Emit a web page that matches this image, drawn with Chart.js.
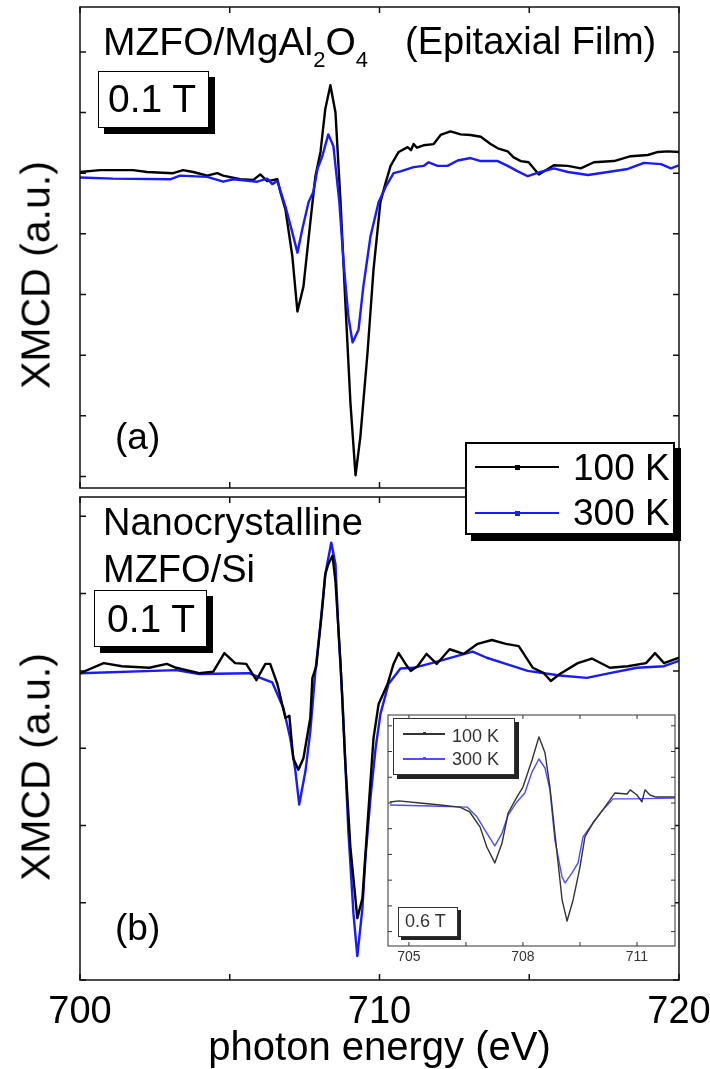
<!DOCTYPE html>
<html>
<head>
<meta charset="utf-8">
<script src="https://cdn.jsdelivr.net/npm/chart.js@4"></script>
<style>
  html, body { margin: 0; padding: 0; background: #fff; }
  #page { position: relative; width: 710px; height: 1069px; overflow: hidden;
          font-family: 'Liberation Sans', Arial, sans-serif; color: #000; }
  canvas { position: absolute; }
  .t { position: absolute; line-height: 1; white-space: nowrap; }
  .box { position: absolute; background: #fff; box-sizing: border-box; }
  .ln { position: absolute; }
</style>
</head>
<body>
<div id="page">
  <canvas id="top" width="710" height="492" style="left:0;top:0;width:710px;height:492px"></canvas>
  <canvas id="bot" width="710" height="577" style="left:0;top:492px;width:710px;height:577px"></canvas>
  <canvas id="ins" width="310" height="270" style="left:380px;top:705px;width:310px;height:270px"></canvas>

  <!-- panel (a) -->
  <div class="t" style="left:103px;top:22px;font-size:39px">MZFO/MgAl<span style="font-size:22px;position:relative;top:12px">2</span>O<span style="font-size:22px;position:relative;top:12px">4</span></div>
  <div class="t" style="left:405px;top:22px;font-size:38px">(Epitaxial Film)</div>
  <div class="box" style="left:98px;top:71px;width:111px;height:57px;border:1.5px solid #000;box-shadow:6px 6px 0 #000"></div>
  <div class="t" style="left:108px;top:79px;font-size:39px">0.1 T</div>
  <div class="t" style="left:115px;top:418px;font-size:37px">(a)</div>
  <div class="t" style="left:36px;top:275px;font-size:41px;transform:translate(-50%,-50%) rotate(-90deg)">XMCD (a.u.)</div>

  <!-- panel (b) -->
  <div class="t" style="left:103px;top:503px;font-size:38px">Nanocrystalline</div>
  <div class="t" style="left:103px;top:550px;font-size:38px">MZFO/Si</div>
  <div class="box" style="left:94px;top:590px;width:113px;height:57px;border:1.5px solid #000;box-shadow:6px 6px 0 #000"></div>
  <div class="t" style="left:107px;top:599px;font-size:39px">0.1 T</div>
  <div class="t" style="left:115px;top:909px;font-size:37px">(b)</div>
  <div class="t" style="left:36px;top:767px;font-size:41px;transform:translate(-50%,-50%) rotate(-90deg)">XMCD (a.u.)</div>

  <!-- main legend -->
  <div class="box" style="left:465px;top:442px;width:210px;height:93px;border:2px solid #000;box-shadow:6px 6px 0 #000"></div>
  <div class="ln" style="left:475px;top:466px;width:84px;height:2px;background:#000"></div>
  <div class="ln" style="left:515px;top:465px;width:5px;height:5px;background:#000"></div>
  <div class="t" style="left:573px;top:449px;font-size:37px">100 K</div>
  <div class="ln" style="left:475px;top:512px;width:84px;height:2px;background:#1a1aff"></div>
  <div class="ln" style="left:515px;top:511px;width:5px;height:5px;background:#1a1aff"></div>
  <div class="t" style="left:573px;top:494px;font-size:37px">300 K</div>

  <!-- inset legend and label -->
  <div class="box" style="left:393px;top:718px;width:122px;height:57px;border:1px solid #333;box-shadow:4px 4px 0 #222"></div>
  <div class="ln" style="left:403px;top:733px;width:42px;height:1.5px;background:#333"></div>
  <div class="ln" style="left:423px;top:732px;width:3px;height:3px;background:#333"></div>
  <div class="t" style="left:452px;top:727px;font-size:18px;color:#333">100 K</div>
  <div class="ln" style="left:403px;top:758px;width:42px;height:1.5px;background:#4d4dff"></div>
  <div class="ln" style="left:423px;top:757px;width:3px;height:3px;background:#4d4dff"></div>
  <div class="t" style="left:452px;top:750px;font-size:18px;color:#333">300 K</div>
  <div class="box" style="left:398px;top:907px;width:60px;height:30px;border:1px solid #333;box-shadow:3px 3px 0 #222"></div>
  <div class="t" style="left:405px;top:912px;font-size:18px;color:#333">0.6 T</div>
</div>

<script>
// photon energy (eV) and XMCD (a.u.)

// (a) epitaxial film, 0.1 T
const topE_100 = [700.0,700.67,701.77,702.24,703.11,703.44,703.78,704.25,704.58,704.78,705.35,705.79,706.02,706.25,706.59,706.69,706.86,707.09,707.26,707.46,707.69,707.86,708.03,708.19,708.36,708.53,708.7,708.86,709.03,709.2,709.36,709.6,709.8,710.03,710.18,710.37,710.64,710.94,711.05,711.14,711.25,711.47,711.81,712.04,712.37,712.71,713.04,713.38,713.71,713.95,714.28,714.48,714.72,714.98,715.32,715.82,716.29,716.72,717.16,717.83,718.39,718.96,719.3,719.63,720.0];
const topV_100 = [0.02,0.05,0.05,0.02,0.0,0.05,0.02,-0.04,0.0,-0.04,-0.10,-0.11,-0.02,-0.13,-0.10,-0.31,-0.60,-1.37,-2.28,-1.87,-0.81,-0.05,0.35,1.06,1.45,1.00,-0.48,-2.13,-3.79,-4.98,-4.35,-2.96,-1.59,-0.48,-0.20,0.12,0.35,0.43,0.38,0.48,0.42,0.46,0.48,0.63,0.69,0.64,0.63,0.60,0.48,0.41,0.36,0.26,0.20,0.18,-0.02,0.13,0.12,0.08,0.18,0.20,0.28,0.30,0.35,0.36,0.35];
const topE_300 = [700.0,701.1,703.01,703.34,704.25,704.78,705.12,705.92,706.25,706.42,706.59,706.86,707.09,707.26,707.42,707.63,707.79,707.93,708.09,708.29,708.46,708.66,708.8,708.96,709.1,709.3,709.46,709.7,709.97,710.2,710.47,710.7,711.14,711.47,711.64,711.94,712.27,712.61,713.04,713.38,713.95,714.28,714.62,714.95,715.38,715.82,716.29,716.96,717.63,718.29,718.83,719.4,719.73,720.0];
const topV_300 = [-0.07,-0.09,-0.10,-0.04,-0.06,-0.14,-0.10,-0.14,-0.09,-0.18,-0.13,-0.55,-0.98,-1.31,-0.93,-0.48,-0.31,0.07,0.28,0.64,0.45,-0.48,-1.47,-2.36,-2.79,-2.58,-1.87,-1.04,-0.48,-0.23,0.0,0.03,0.10,0.12,0.18,0.12,0.12,0.21,0.25,0.20,0.20,0.12,0.03,-0.05,0.02,0.08,0.02,-0.03,0.02,0.07,0.17,0.15,0.08,0.13];

// (b) nanocrystalline, 0.1 T
const botE_100 = [700.0,700.79,701.4,702.31,702.9,703.21,703.98,704.45,704.82,705.18,705.55,705.89,706.19,706.35,706.59,706.86,706.99,707.12,707.29,707.46,707.69,707.76,707.89,708.09,708.19,708.29,708.43,708.53,708.7,708.86,709.03,709.26,709.43,709.6,709.8,709.97,710.27,710.47,710.64,710.87,711.04,711.27,711.57,711.91,712.34,712.81,713.28,713.75,714.22,714.65,715.12,715.49,715.72,716.02,716.62,717.09,717.69,718.29,718.9,719.2,719.5,720.0];
const botV_100 = [-0.03,0.10,0.06,0.04,0.09,0.04,-0.03,-0.01,0.23,0.10,0.09,-0.12,0.09,0.09,-0.17,-0.61,-0.58,-1.13,-1.28,-1.13,-0.61,-0.09,0.06,0.82,1.25,1.38,1.49,1.16,0.09,-1.20,-2.29,-3.20,-2.94,-1.98,-0.87,-0.43,-0.17,0.09,0.23,0.09,0.0,0.06,0.22,0.09,0.28,0.22,0.35,0.40,0.35,0.32,0.04,-0.03,-0.13,-0.04,0.10,0.16,0.04,0.06,0.10,0.23,0.10,0.17];
const botE_300 = [700.0,703.21,703.98,705.65,706.02,706.42,706.79,707.02,707.19,707.32,707.53,707.69,707.86,708.03,708.19,708.39,708.53,708.63,708.76,708.86,708.96,709.13,709.26,709.43,709.53,709.7,709.87,710.03,710.3,710.7,711.14,711.74,713.11,713.58,714.22,714.95,716.02,716.92,717.69,718.6,719.5,720.0];
const botV_300 = [-0.03,0.01,-0.04,-0.03,-0.09,-0.15,-0.48,-0.87,-1.29,-1.73,-1.29,-0.78,0.0,0.61,1.25,1.66,1.38,0.52,-0.35,-1.20,-2.07,-3.14,-3.69,-3.07,-2.42,-1.64,-1.00,-0.56,-0.17,0.03,0.04,0.10,0.25,0.17,0.09,0.0,-0.06,-0.09,-0.03,0.04,0.06,0.13];

// inset, 0.6 T
const insE_100 = [704.5,704.74,705.29,705.82,706.34,706.6,706.87,707.05,707.26,707.45,707.61,707.84,708.0,708.24,708.42,708.58,708.71,708.84,709.03,709.16,709.32,709.5,709.63,709.84,710.1,710.29,710.42,710.74,710.82,711.0,711.13,711.21,711.34,711.5,712.0];
const insV_100 = [0.04,0.08,0.0,-0.08,-0.16,-0.35,-0.93,-1.71,-2.33,-1.56,-0.39,0.23,0.62,1.67,2.57,1.95,0.62,-1.17,-3.77,-4.59,-3.77,-2.49,-1.32,-0.78,-0.27,0.12,0.39,0.35,0.51,0.31,0.04,0.51,0.31,0.23,0.23];
const insE_300 = [704.5,705.55,706.53,706.79,707.05,707.26,707.45,707.61,707.84,708.05,708.24,708.42,708.58,708.71,708.84,709.03,709.11,709.29,709.45,709.58,709.84,710.1,710.37,710.82,712.0];
const insV_300 = [-0.08,-0.12,-0.16,-0.54,-1.17,-1.67,-1.17,-0.47,0.04,0.39,1.21,1.71,1.36,0.51,-1.44,-2.88,-3.11,-2.72,-2.33,-1.32,-0.78,-0.27,0.16,0.16,0.19];

// ticks
const mainXTicks = [700, 705, 710, 715, 720];
const mainXLabels = [700, 710, 720];
const topYTicks = [-5, -4, -3, -2, -1, 0, 1, 2];
const botYTicks = [-4, -3, -2, -1, 0, 1, 2];
const insXTicks = [705, 706.5, 708, 709.5, 711];
const insXLabels = [705, 708, 711];
const insYTicks = [-5, -4, -3, -2, -1, 0, 1, 2, 3];

const FONT = "'Liberation Sans', Arial, sans-serif";
const BLUE = '#1a1aff';

function pts(E, V) {
  return E.map((e, i) => ({ x: e, y: V[i] }));
}

function lineSet(E, V, color, width) {
  return { data: pts(E, V), borderColor: color, borderWidth: width, pointRadius: 0,
           tension: 0, fill: false, borderJoinStyle: 'round' };
}

// box round the plot with inward tick marks on all four sides
function framePlugin(cfg) {
  return {
    id: 'frame',
    beforeDraw(chart) {
      if (!cfg.fill) return;
      const a = chart.chartArea;
      chart.ctx.save();
      chart.ctx.fillStyle = cfg.fill;
      chart.ctx.fillRect(a.left, a.top, a.right - a.left, a.bottom - a.top);
      chart.ctx.restore();
    },
    afterDraw(chart) {
      const ctx = chart.ctx, a = chart.chartArea, x = chart.scales.x, y = chart.scales.y;
      ctx.save();
      ctx.strokeStyle = cfg.color;
      ctx.lineWidth = cfg.width;
      ctx.beginPath();
      cfg.xTicks.forEach(v => {
        const px = x.getPixelForValue(v);
        ctx.moveTo(px, a.bottom); ctx.lineTo(px, a.bottom - cfg.len);
        ctx.moveTo(px, a.top); ctx.lineTo(px, a.top + cfg.len);
      });
      cfg.yTicks.forEach(v => {
        const py = y.getPixelForValue(v);
        ctx.moveTo(a.left, py); ctx.lineTo(a.left + cfg.len, py);
        ctx.moveTo(a.right, py); ctx.lineTo(a.right - cfg.len, py);
      });
      ctx.stroke();
      ctx.strokeRect(a.left, a.top, a.right - a.left, a.bottom - a.top);
      ctx.restore();
    }
  };
}

const common = {
  responsive: false,
  animation: false,
  devicePixelRatio: 1,
  plugins: { legend: { display: false }, tooltip: { enabled: false } }
};

new Chart(document.getElementById('top'), {
  type: 'line',
  data: { datasets: [
    lineSet(topE_300, topV_300, BLUE, 2.4),
    lineSet(topE_100, topV_100, '#000', 2.4)
  ] },
  options: Object.assign({}, common, {
    layout: { padding: { left: 80, right: 31, top: 7, bottom: 4 } },
    scales: {
      x: { type: 'linear', min: 700, max: 720, display: false },
      y: { type: 'linear', min: -5.19, max: 2.74, display: false }
    }
  }),
  plugins: [framePlugin({ xTicks: mainXTicks, yTicks: topYTicks, len: 6, color: '#111', width: 1.5 })]
});

new Chart(document.getElementById('bot'), {
  type: 'line',
  data: { datasets: [
    lineSet(botE_100, botV_100, '#000', 2.4),
    lineSet(botE_300, botV_300, BLUE, 2.4)
  ] },
  options: Object.assign({}, common, {
    layout: { padding: { left: 80, right: 31, top: 5, bottom: 0 } },
    scales: {
      x: {
        type: 'linear', min: 700, max: 720,
        grid: { display: false, drawTicks: false },
        border: { display: false },
        afterBuildTicks: s => { s.ticks = mainXLabels.map(v => ({ value: v })); },
        ticks: { autoSkip: false, maxRotation: 0, padding: 10, color: '#000',
                 font: { family: FONT, size: 38 }, callback: v => String(v) },
        title: { display: true, text: 'photon energy (eV)', color: '#000',
                 font: { family: FONT, size: 40, lineHeight: 1 }, padding: 0 },
        afterFit: s => { s.height = 89; s.paddingLeft = 0; s.paddingRight = 0; }
      },
      y: { type: 'linear', min: -4.0, max: 2.25, display: false }
    }
  }),
  plugins: [framePlugin({ xTicks: mainXTicks, yTicks: botYTicks, len: 6, color: '#111', width: 1.5 })]
});

new Chart(document.getElementById('ins'), {
  type: 'line',
  data: { datasets: [
    lineSet(insE_100, insV_100, '#333', 1.4),
    lineSet(insE_300, insV_300, '#4d4dff', 1.4)
  ] },
  options: Object.assign({}, common, {
    layout: { padding: { left: 8, right: 15, top: 10, bottom: 0 } },
    scales: {
      x: {
        type: 'linear', min: 704.45, max: 712.0,
        grid: { display: false, drawTicks: false },
        border: { display: false },
        afterBuildTicks: s => { s.ticks = insXLabels.map(v => ({ value: v })); },
        ticks: { autoSkip: false, maxRotation: 0, padding: 3, color: '#333',
                 font: { family: FONT, size: 14 }, callback: v => String(v) },
        afterFit: s => { s.height = 29; s.paddingLeft = 0; s.paddingRight = 0; }
      },
      y: { type: 'linear', min: -5.56, max: 3.42, display: false }
    }
  }),
  plugins: [framePlugin({ xTicks: insXTicks, yTicks: insYTicks, len: 4, color: '#333', width: 1, fill: '#fff' })]
});
</script>
</body>
</html>
